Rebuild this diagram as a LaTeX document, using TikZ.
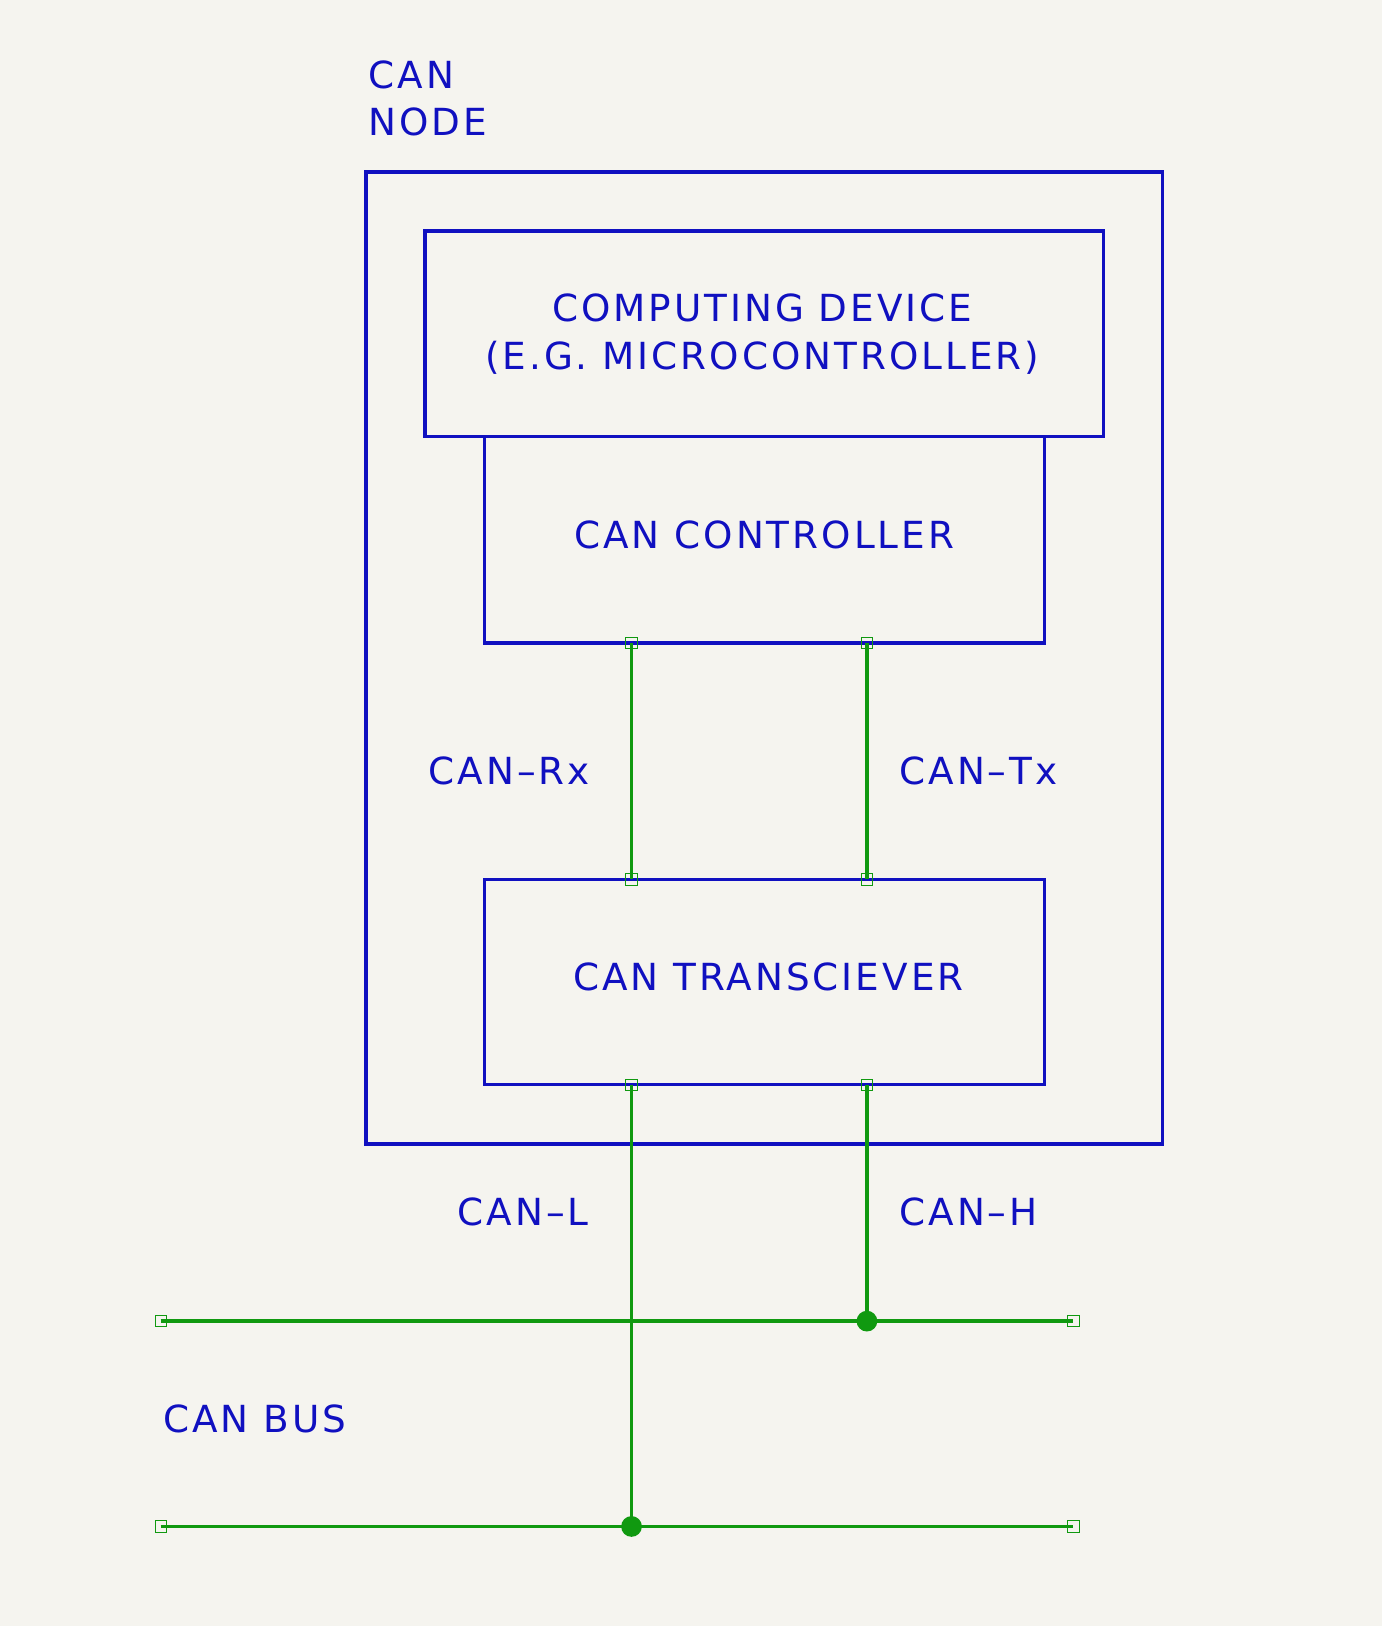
\documentclass[tikz,border=0pt]{standalone}
\usepackage{fontspec}
\setmainfont[LetterSpace=8]{DejaVu Sans}
\begin{document}
\definecolor{bg}{HTML}{F5F4EF}
\definecolor{kb}{HTML}{1010C0}
\definecolor{kg}{HTML}{109910}
\begin{tikzpicture}[x=0.5pt,y=-0.5pt,
  box/.style={draw=kb,line width=1.7pt},
  txt/.style={text=kb,font=\fontsize{18}{23}\selectfont,inner sep=0pt},
  wire/.style={draw=kg,line width=1.7pt},
  pin/.style={draw=kg,line width=0.4pt,minimum size=5.5pt,inner sep=0pt,fill=none},
  dot/.style={circle,fill=kg,minimum size=10pt,inner sep=0pt}]
\fill[bg] (0,0) rectangle (1333,1568);
\useasboundingbox (0,0) rectangle (1333,1568);
\draw[box] (353,166) rectangle (1121,1103);
\draw[box] (467,421) rectangle (1007,620);
\draw[box] (410,223) rectangle (1064,421);
\draw[box] (467,848) rectangle (1007,1046);
\node[txt,align=center] (cd) at (735,322) {COMPUTING DEVICE\\(E.G. MICROCONTROLLER)};
\node[txt] (cc) at (737,516) {CAN CONTROLLER};
\node[txt] (ct) at (741,942) {CAN TRANSCIEVER};
\node[txt,anchor=west,align=left] (cn) at (355,95) {CAN\\NODE};
\node[txt,anchor=west] (lrx) at (413,743) {CAN–Rx};
\node[txt,anchor=west] (ltx) at (867,743) {CAN–Tx};
\node[txt,anchor=west] (ll) at (441,1169) {CAN–L};
\node[txt,anchor=west] (lh) at (867,1169) {CAN–H};
\node[txt,anchor=west] (lb) at (157,1368) {CAN BUS};
\coordinate (p1) at (609,620); \coordinate (p2) at (836,620);
\coordinate (p3) at (609,848); \coordinate (p4) at (836,848);
\coordinate (p5) at (609,1046); \coordinate (p6) at (836,1046);
\coordinate (h1) at (155,1274); \coordinate (h2) at (1035,1274);
\coordinate (b1) at (155,1472); \coordinate (b2) at (1035,1472);
\coordinate (jh) at (836,1274); \coordinate (jl) at (609,1472);
\draw[wire] (p1) -- (p3); \draw[wire] (p2) -- (p4);
\draw[wire] (p5) -- (jl); \draw[wire] (p6) -- (jh);
\draw[wire] (h1) -- (h2); \draw[wire] (b1) -- (b2);
\node[dot] at (jh) {}; \node[dot] at (jl) {};
\foreach \p in {p1,p2,p3,p4,p5,p6,h1,h2,b1,b2} \node[pin] at (\p) {};
\end{tikzpicture}
\end{document}
